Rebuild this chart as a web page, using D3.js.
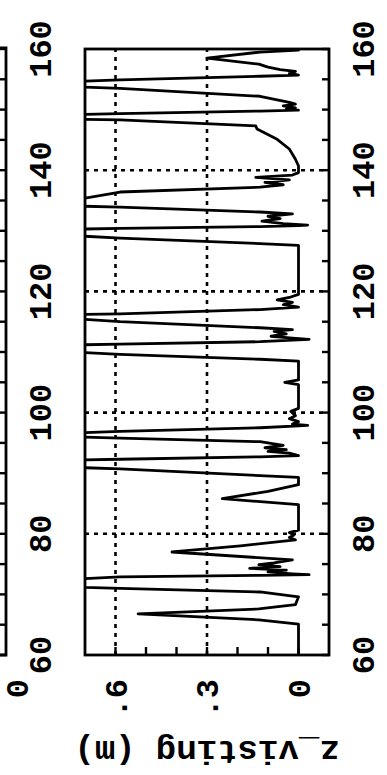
<!DOCTYPE html>
<html>
<head>
<meta charset="utf-8">
<script src="https://cdn.jsdelivr.net/npm/d3@7"></script>
<style>
  html, body { margin: 0; padding: 0; background: #fff; }
  svg { display: block; }
  text { font-family: "Liberation Mono", "DejaVu Sans Mono", monospace; font-weight: bold; fill: #000; }
</style>
</head>
<body>
<svg id="chart" width="387" height="775"></svg>
<script>
// Axis ticks and labels
const timeMajor = [60, 80, 100, 120, 140, 160];
const timeLabels = ["60", "80", "100", "120", "140", "160"];
const timeMinor = [60, 65, 70, 75, 80, 85, 90, 95, 100, 105, 110, 115, 120, 125, 130, 135, 140, 145, 150, 155, 160];
const depthMajor = [0, 0.3, 0.6];
const depthLabels = ["0", ".3", ".6"];
const depthMinor = [0, 0.1, 0.2, 0.3, 0.4, 0.5, 0.6];
const gridTime = [80, 100, 120, 140];
const gridDepth = [0.3, 0.6];
const axisTitle = "z_visting (m)";

// Depth record: time and z_visting (m); the tall excursions run past the top of the scale
const timeVals = [
  60.0, 65.1, 65.8, 66.8, 67.6, 68.3, 69.6, 70.4, 71.0, 71.15, 71.9, 72.6, 72.9, 73.15, 73.25,
  73.4, 73.7, 74.0, 74.3, 74.6, 74.9, 75.2, 75.7, 77.0, 78.0, 79.0, 79.4, 79.8, 80.2, 80.6,
  84.8, 85.8, 87.0, 88.1, 89.3, 89.6, 90.7, 90.9, 91.5, 92.2, 92.3, 92.7, 92.9, 93.3, 93.6,
  93.9, 94.2, 94.6, 95.2, 95.8, 95.95, 96.3, 96.7, 96.9, 97.5, 97.8, 97.9, 98.1, 98.5, 99.0,
  99.5, 100.2, 100.7, 104.6, 105.0, 105.4, 108.5, 108.8, 109.6, 109.9, 110.5, 111.2, 111.3, 111.7, 112.0,
  112.1, 112.3, 112.6, 113.0, 113.4, 113.7, 114.0, 115.0, 115.4, 115.8, 116.2, 116.3, 117.0, 117.4, 117.8,
  118.2, 118.6, 119.0, 119.5, 127.6, 127.9, 128.8, 129.1, 129.7, 130.3, 130.4, 130.7, 130.85, 130.95, 131.2,
  131.6, 132.0, 132.4, 132.8, 133.1, 133.9, 134.05, 134.7, 135.4, 136.4, 137.2, 137.6, 138.0, 138.4, 138.8,
  139.2, 139.6, 140.7, 141.8, 143.5, 145.1, 146.8, 147.3, 148.3, 148.4, 148.8, 149.2, 149.35, 149.75, 149.9,
  150.1, 150.3, 150.6, 150.9, 151.2, 152.2, 153.5, 153.7, 154.2, 154.7, 154.9, 155.5, 155.7, 156.0, 156.3,
  156.6, 157.0, 157.5, 158.5, 159.5, 159.8, 160.0
];
const depthVals = [
  0.00, 0.00, 0.13, 0.526, 0.13, 0.01, 0.00, 0.126, 0.585, 0.70, 1.00, 0.70, 0.585, 0.126, -0.035,
  0.02, 0.10, 0.04, 0.16, 0.06, 0.13, 0.08, 0.02, 0.415, 0.19, 0.01, 0.03, 0.015, 0.03, 0.00,
  0.00, 0.25, 0.10, 0.00, 0.00, 0.126, 0.585, 0.70, 1.00, 0.70, 0.585, 0.126, 0.00, 0.03, 0.10,
  0.04, 0.11, 0.05, 0.126, 0.585, 0.70, 1.00, 0.70, 0.585, 0.126, 0.00, -0.03, 0.02, 0.00, 0.03,
  0.01, 0.025, 0.00, 0.00, 0.045, 0.00, 0.00, 0.126, 0.585, 0.70, 1.00, 0.70, 0.585, 0.126, 0.00,
  -0.035, 0.02, 0.09, 0.04, 0.08, 0.02, 0.126, 0.585, 0.70, 1.00, 0.70, 0.585, 0.126, 0.00, 0.05,
  0.02, 0.07, 0.03, 0.00, 0.00, 0.126, 0.585, 0.70, 1.00, 0.70, 0.585, 0.126, 0.00, -0.03, 0.05,
  0.12, 0.06, 0.10, 0.02, 0.126, 0.585, 0.70, 1.00, 0.70, 0.585, 0.126, 0.05, 0.11, 0.03, 0.14,
  0.02, 0.00, 0.00, 0.01, 0.03, 0.07, 0.136, 0.14, 0.585, 0.70, 1.00, 0.70, 0.585, 0.126, 0.00,
  0.04, 0.01, 0.05, 0.01, 0.03, 0.126, 0.585, 0.70, 1.00, 0.70, 0.585, 0.126, 0.00, 0.03, 0.01,
  0.06, 0.10, 0.13, 0.30, 0.126, 0.00, 0.00
];
const series = timeVals.map((t, i) => ({ t, z: depthVals[i] }));

const W = 775;                    // the figure is laid out landscape, then turned
const svg = d3.select("#chart");
const fig = svg.append("g").attr("transform", `translate(0,${W}) rotate(-90)`);

const x = d3.scaleLinear().domain([60, 160]).range([120, 726]);
const y = d3.scaleLinear().domain([-0.1, 0.7]).range([329, 85]);
const [x0, x1] = x.range();
const [yb, yt] = y.range();

// clip for the data line
fig.append("clipPath").attr("id", "plotClip")
  .append("rect").attr("x", x0).attr("y", yt).attr("width", x1 - x0).attr("height", yb - yt);

// dashed grid
const gridStyle = g => g.attr("stroke", "#000").attr("stroke-width", 2.6).attr("stroke-dasharray", "4,5");
fig.append("g").selectAll("line").data(gridTime).join("line")
  .attr("x1", d => x(d)).attr("x2", d => x(d)).attr("y1", yt).attr("y2", yb).call(gridStyle);
fig.append("g").selectAll("line").data(gridDepth).join("line")
  .attr("x1", x0).attr("x2", x1).attr("y1", d => y(d)).attr("y2", d => y(d)).call(gridStyle);

// data line
const line = d3.line().x(d => x(d.t)).y(d => y(d.z));
fig.append("path").datum(series)
  .attr("clip-path", "url(#plotClip)")
  .attr("d", line)
  .attr("fill", "none").attr("stroke", "#000").attr("stroke-width", 2.8)
  .attr("stroke-linejoin", "round");

// frame
fig.append("rect").attr("x", x0).attr("y", yt).attr("width", x1 - x0).attr("height", yb - yt)
  .attr("fill", "none").attr("stroke", "#000").attr("stroke-width", 2.8);

// inward ticks: time along the bottom edge, depth along the left edge
fig.append("g").selectAll("line").data(timeMinor).join("line")
  .attr("x1", d => x(d)).attr("x2", d => x(d)).attr("y1", yb).attr("y2", yb - 7)
  .attr("stroke", "#000").attr("stroke-width", 2.4);
fig.append("g").selectAll("line").data(depthMinor).join("line")
  .attr("x1", x0).attr("x2", x0 + 8).attr("y1", d => y(d)).attr("y2", d => y(d))
  .attr("stroke", "#000").attr("stroke-width", 2.4);

// tick labels
fig.append("g").selectAll("text").data(timeMajor).join("text")
  .attr("x", d => x(d)).attr("y", 374).attr("text-anchor", "middle")
  .attr("font-size", 32).text((d, i) => timeLabels[i]);
fig.append("g").selectAll("text").data(depthMajor).join("text")
  .attr("x", 96).attr("y", d => y(d) + 11).attr("text-anchor", "end")
  .attr("font-size", 32).text((d, i) => depthLabels[i]);

// axis title
fig.append("text").attr("transform", `translate(34,${(yt + yb) / 2}) rotate(-90)`)
  .attr("text-anchor", "middle").attr("font-size", 34).text(axisTitle);

// edge of the neighbouring panel
const nb = fig.append("g");
nb.append("path").attr("d", `M${x0},0 V6 H${x1 + 1} V0`)
  .attr("fill", "none").attr("stroke", "#000").attr("stroke-width", 2.8);
nb.selectAll("line").data(timeMinor).join("line")
  .attr("x1", d => x(d)).attr("x2", d => x(d)).attr("y1", 6).attr("y2", 0)
  .attr("stroke", "#000").attr("stroke-width", 2.4);
nb.selectAll("text.t").data(timeMajor).join("text").attr("class", "t")
  .attr("x", d => x(d)).attr("y", 51).attr("text-anchor", "middle")
  .attr("font-size", 32).text((d, i) => timeLabels[i]);
nb.append("text").attr("x", 96).attr("y", 28).attr("text-anchor", "end")
  .attr("font-size", 32).text(depthLabels[0]);
</script>
</body>
</html>
